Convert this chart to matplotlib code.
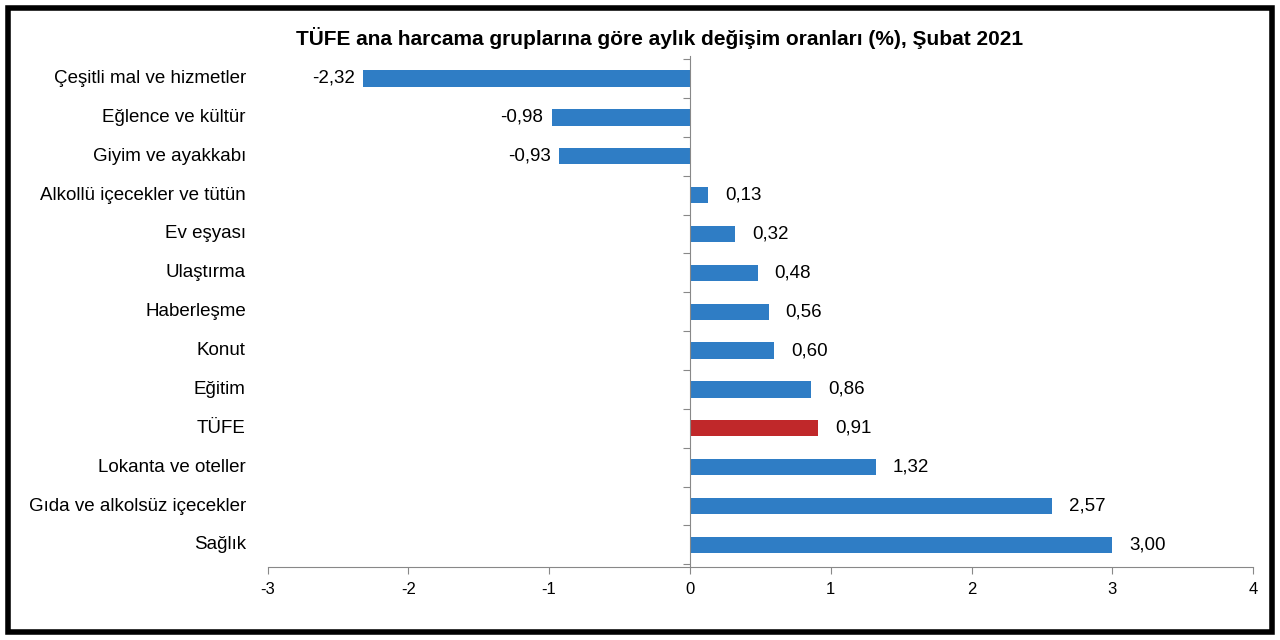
import matplotlib
matplotlib.use("Agg")
import matplotlib.pyplot as plt
from matplotlib.patches import Rectangle
import matplotlib.transforms as mtransforms

categories = ["Çeşitli mal ve hizmetler", "Eğlence ve kültür", "Giyim ve ayakkabı",
              "Alkollü içecekler ve tütün", "Ev eşyası", "Ulaştırma", "Haberleşme",
              "Konut", "Eğitim", "TÜFE", "Lokanta ve oteller",
              "Gıda ve alkolsüz içecekler", "Sağlık"]
values = [-2.32, -0.98, -0.93, 0.13, 0.32, 0.48, 0.56, 0.60, 0.86, 0.91, 1.32, 2.57, 3.00]
xticks = [-3, -2, -1, 0, 1, 2, 3, 4]

plt.rcParams['font.family'] = ['Liberation Sans', 'DejaVu Sans']
fig = plt.figure(figsize=(12.8, 6.4), dpi=100)
ax = fig.add_axes([0.209, 0.114, 0.77, 0.798])
n = len(categories)
ys = list(range(n))
colors = ["#C0282A" if c == "TÜFE" else "#2F7DC5" for c in categories]
ax.barh(ys, values, height=0.42, color=colors)
ax.set_ylim(n - 1 + 0.57, -0.57)
ax.set_xlim(-3, 4)
ax.set_xticks(xticks)
ax.set_xticklabels([str(t) for t in xticks], fontsize=12)
ax.tick_params(axis='x', length=5, color='#888888', pad=6)
for s in ['top', 'right']:
    ax.spines[s].set_visible(False)
ax.spines['bottom'].set_color('#888888')
ax.spines['left'].set_position(('data', 0))
ax.spines['left'].set_color('#888888')
ax.set_yticks([i + 0.5 for i in range(-1, n)])
ax.set_yticklabels([])
ax.tick_params(axis='y', length=5, color='#888888')
trans = mtransforms.blended_transform_factory(ax.transAxes, ax.transData)
for y, c in zip(ys, categories):
    ax.text(-0.022, y, c, transform=trans, ha='right', va='center', fontsize=13.5)
for y, v in zip(ys, values):
    lab = f"{v:.2f}".replace('.', ',')
    if v < 0:
        ax.text(v - 0.06, y, lab, ha='right', va='center', fontsize=13.5)
    else:
        ax.text(v + 0.12, y, lab, ha='left', va='center', fontsize=13.5)
fig.text(0.515, 0.94, "TÜFE ana harcama gruplarına göre aylık değişim oranları (%), Şubat 2021",
         ha='center', va='center', fontsize=15, fontweight='bold')
fig.patches.append(Rectangle((0.006, 0.012), 0.988, 0.976, transform=fig.transFigure,
                             fill=False, edgecolor='black', linewidth=4))
fig.savefig("out.png", dpi=100)
